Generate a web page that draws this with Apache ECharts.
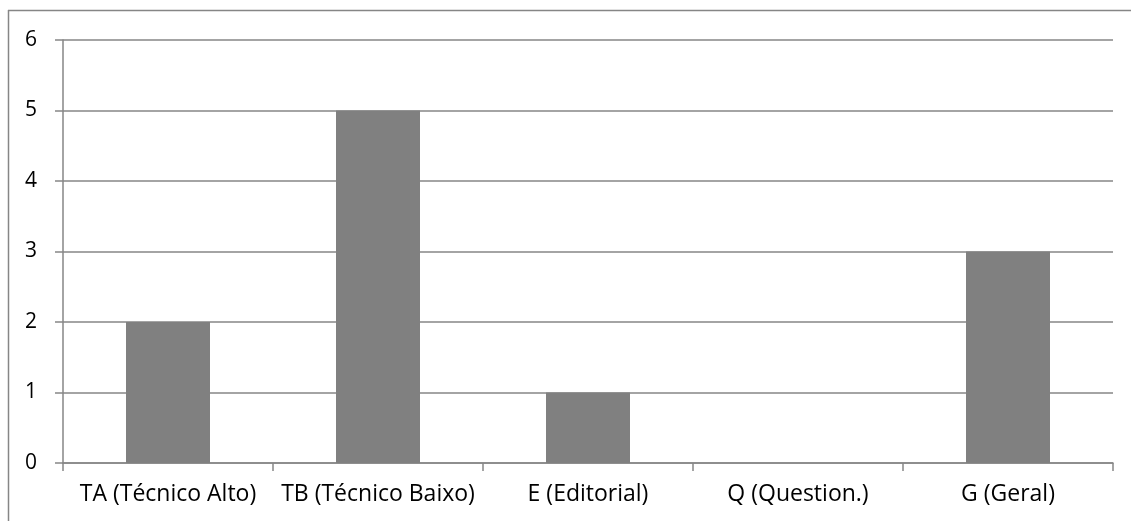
<!DOCTYPE html>
<html>
<head>
<meta charset="utf-8">
<script src="https://cdn.jsdelivr.net/npm/echarts@6/dist/echarts.min.js"></script>
<style>
  html, body { margin: 0; padding: 0; background: #fff; }
  #main { width: 1131px; height: 521px; }
</style>
</head>
<body>
<div id="main"></div>
<script>
// dados do gráfico
var categorias = ['TA (Técnico Alto)', 'TB (Técnico Baixo)', 'E (Editorial)', 'Q (Question.)', 'G (Geral)'];
var valores = [2, 5, 1, 0, 3];

var chart = echarts.init(document.getElementById('main'));
var cinza = '#868686';
var fonte = '"Open Sans", sans-serif';

var option = {
  animation: false,
  backgroundColor: '#fff',
  graphic: [
    { type: 'line', shape: { x1: 8, y1: 10.5, x2: 1131, y2: 10.5 }, style: { stroke: cinza, lineWidth: 1.5 } },
    { type: 'line', shape: { x1: 8.5, y1: 10, x2: 8.5, y2: 521 }, style: { stroke: cinza, lineWidth: 1.5 } }
  ],
  grid: { left: 63, right: 18, top: 40, bottom: 58 },
  xAxis: {
    type: 'category',
    data: categorias,
    axisLine: { lineStyle: { color: cinza, width: 1.5 } },
    axisTick: { show: true, length: 8, lineStyle: { color: cinza, width: 1.5 } },
    axisLabel: { color: '#000', fontSize: 23, fontFamily: fonte, margin: 20, interval: 0 }
  },
  yAxis: {
    type: 'value',
    min: 0, max: 6, interval: 1,
    axisLine: { show: true, lineStyle: { color: cinza, width: 1.5 } },
    axisTick: { show: true, length: 8, lineStyle: { color: cinza, width: 1.5 } },
    axisLabel: { color: '#000', fontSize: 21, fontFamily: fonte, margin: 26 },
    splitLine: { lineStyle: { color: cinza, width: 1.5 } }
  },
  series: [{
    type: 'bar',
    data: valores,
    barWidth: '40%',
    itemStyle: { color: '#808080' }
  }]
};
chart.setOption(option);
</script>
</body>
</html>
